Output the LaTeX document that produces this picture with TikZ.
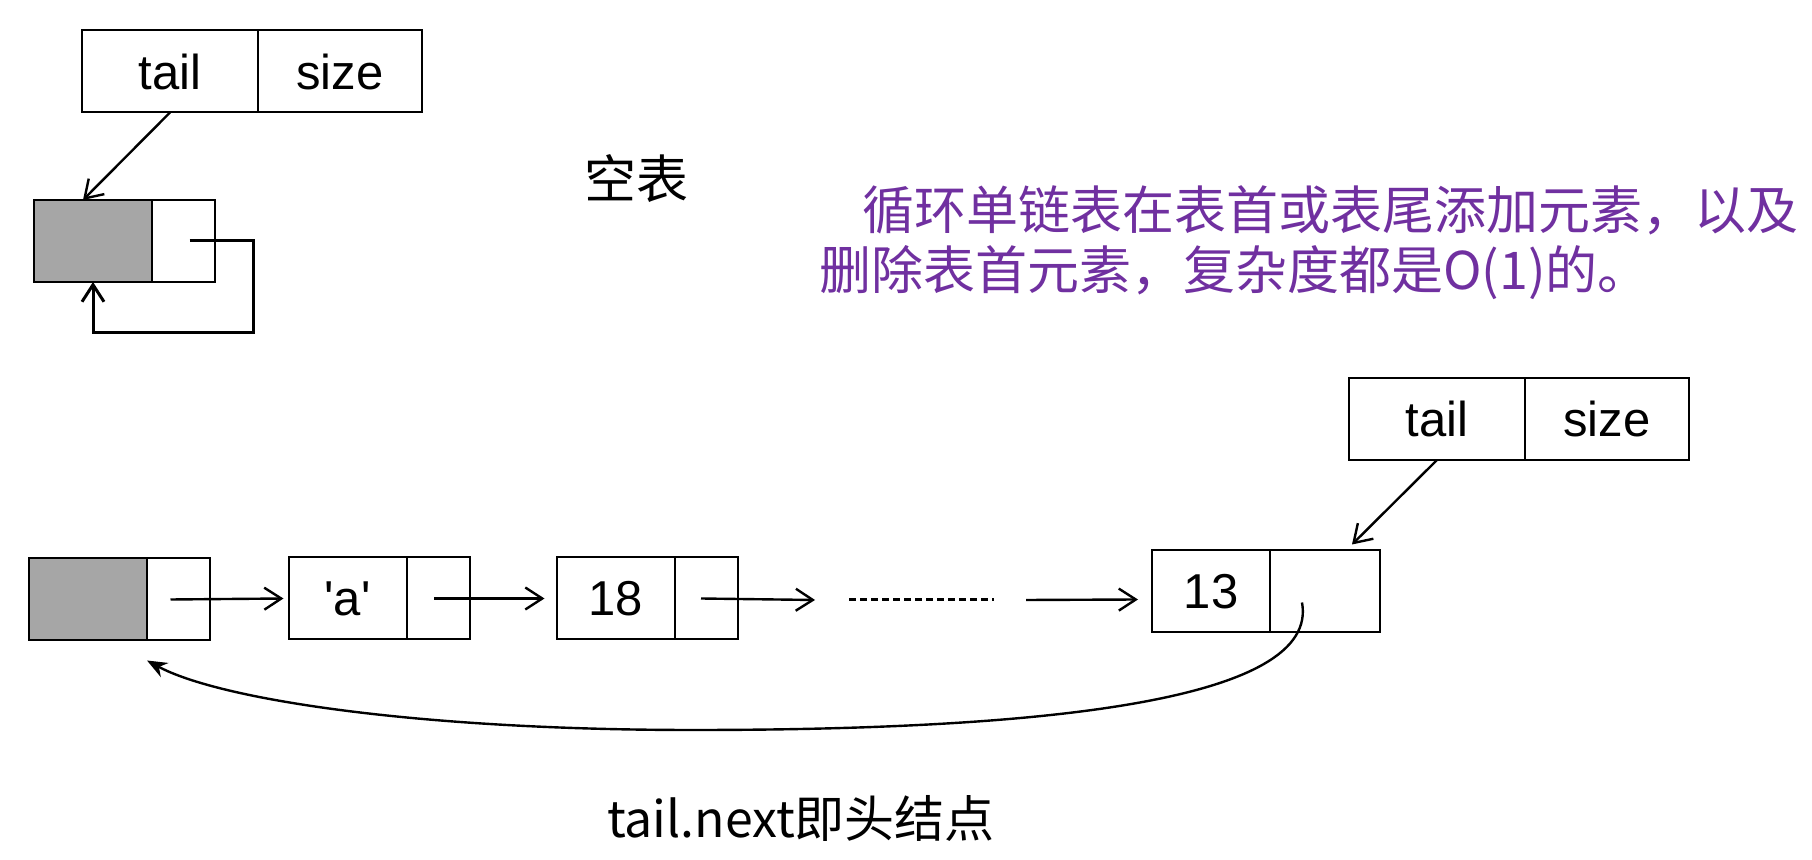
\documentclass[tikz,border=0pt]{standalone}
\usepackage{fontspec}
\setmainfont{Liberation Sans}
\newfontfamily\cjk{Noto Sans CJK SC}
\usetikzlibrary{arrows.meta, positioning}
\definecolor{notepurple}{HTML}{7030A0}
\definecolor{dummygray}{HTML}{A6A6A6}
\tikzset{
  >={Straight Barb[length=8.5pt,width=11pt]}, % open arrow heads
  cell/.style={draw, line width=1pt, inner sep=0pt, outer sep=0pt,
    minimum height=41pt, font=\fontsize{24.5}{28}\selectfont}, % one box
  % of a list node
  valcell/.style={cell, minimum width=59pt},
  linkcell/.style={cell, minimum width=31.5pt},
  dummy/.style={valcell, fill=dummygray}, % the head node holds no value
}

\begin{document}
\begin{tikzpicture}[x=0.5pt, y=-0.5pt, line width=1.2pt]
    \useasboundingbox (0,0) rectangle (1812,860);

    % empty list
    \node[cell, minimum width=88pt] (tail_0) at (170,71.5) {tail};
    \node[cell, minimum width=82pt, right=0pt of tail_0] (size_0) {size};
    \node[dummy] (dummy_0) at (93,241) {};
    \node[linkcell, right=0pt of dummy_0] (link_0) {};
    \node[font=\cjk\fontsize{26}{30}\selectfont] (empty) at (636,179) {空表};

    \draw[->] (tail_0.south) -- ([xshift=-5pt]dummy_0.north);
    \draw[->, line width=1.5pt] ([xshift=3pt]link_0.center) -- ++(64,0)
    -- ++(0,92) -| (dummy_0.south);

    % note
    \node[anchor=west, align=left, text=notepurple, inner sep=0pt,
    font=\cjk\fontsize{26}{30}\selectfont] (note) at (818,243)
    {\hspace*{21.5pt}循环单链表在表首或表尾添加元素，以及\\
    删除表首元素，复杂度都是O(1)的。};

    % list with elements
    \node[dummy] (dummy_1) at (88,599.5) {};
    \node[linkcell, right=0pt of dummy_1] (link_1) {};
    \node[valcell] (val_a) at (347.5,598.5)
    {\textquotesingle a\textquotesingle};
    \node[linkcell, right=0pt of val_a] (link_a) {};
    \node[valcell] (val_18) at (615.5,598.5) {18};
    \node[linkcell, right=0pt of val_18] (link_18) {};
    \node[valcell] (val_13) at (1211,591.5) {13};
    \node[cell, minimum width=55pt, right=0pt of val_13] (link_13) {};
    \node[cell, minimum width=88pt] (tail_1) at (1437,419) {tail};
    \node[cell, minimum width=82pt, right=0pt of tail_1] (size_1) {size};
    \node[font=\cjk\fontsize{25}{30}\selectfont] (label) at (801,818)
    {tail.next即头结点};

    \coordinate (gap_l) at (815,600);
    \coordinate (dots_l) at (849,600);
    \coordinate (dots_r) at (994,600);
    \coordinate (gap_r) at (1026,600);

    \draw[->] ([xshift=-4pt]link_1.center) -- ([xshift=-2.5pt]val_a.west);
    \draw[->] ([xshift=-2pt]link_a.center) -- ([xshift=-6pt]val_18.west);
    \draw[->] ([xshift=-2.5pt]link_18.center) -- (gap_l);
    \draw[dash pattern=on 3.5pt off 2pt, line width=1.5pt] (dots_l) -- (dots_r);
    \draw[->] (gap_r) -- ([xshift=-7pt, yshift=-4pt]val_13.west);
    \draw[->] (tail_1.south) -- ([xshift=13.5pt, yshift=3pt]link_13.north);

    \draw[-{Stealth[length=10pt,width=8pt]}]
    ([xshift=-11.5pt, yshift=-5.5pt]link_13.center)
    .. controls (1320,700) and (1050,730) .. (693,730)
    .. controls (420,730) and (220,700) .. ([yshift=-10pt]dummy_1.south east);
  \end{tikzpicture}
\end{document}
